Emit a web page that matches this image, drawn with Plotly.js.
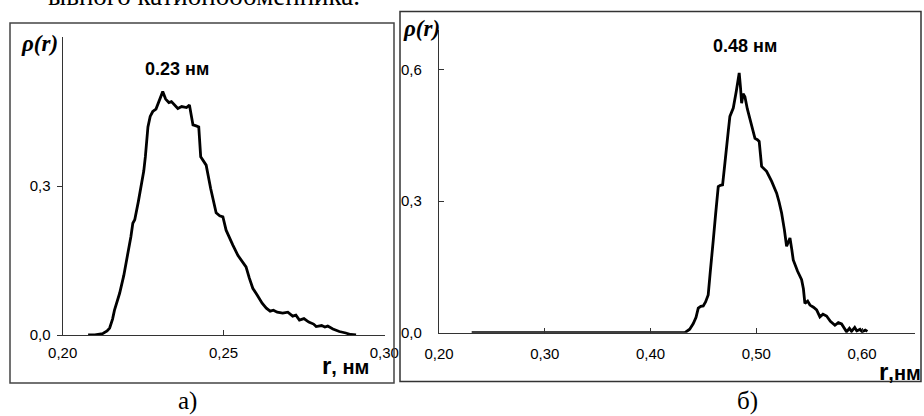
<!DOCTYPE html>
<html>
<head>
<meta charset="utf-8">
<script src="https://cdn.plot.ly/plotly-3.0.1.min.js"></script>
<style>html,body{margin:0;padding:0;background:#fff;}#chart{width:924px;height:416px;}</style>
</head>
<body>
<div id="chart"></div>
<script>
// Panel a) — peak at 0.23 nm
var rA = [0.2079, 0.2100, 0.2125, 0.2138, 0.2146, 0.2155, 0.2161, 0.2170, 0.2177, 0.2190, 0.2203, 0.2212, 0.2218, 0.2224, 0.2235, 0.2244, 0.2252, 0.2257, 0.2262, 0.2265, 0.2272, 0.2280, 0.2290, 0.2300, 0.2311, 0.2320, 0.2330, 0.2338, 0.2348, 0.2358, 0.2370, 0.2385, 0.2394, 0.2400, 0.2405, 0.2415, 0.2423, 0.2429, 0.2437, 0.2446, 0.2460, 0.2477, 0.2488, 0.2498, 0.2508, 0.2518, 0.2529, 0.2545, 0.2560, 0.2570, 0.2580, 0.2591, 0.2605, 0.2620, 0.2633, 0.2645, 0.2655, 0.2667, 0.2684, 0.2700, 0.2715, 0.2725, 0.2736, 0.2750, 0.2765, 0.2780, 0.2788, 0.2805, 0.2815, 0.2824, 0.2840, 0.2860, 0.2880, 0.2895, 0.2912];
var rhoA = [0.000, 0.000, 0.003, 0.008, 0.014, 0.032, 0.050, 0.068, 0.084, 0.120, 0.164, 0.198, 0.225, 0.232, 0.268, 0.299, 0.330, 0.359, 0.395, 0.419, 0.440, 0.450, 0.455, 0.472, 0.490, 0.475, 0.468, 0.470, 0.462, 0.456, 0.460, 0.458, 0.463, 0.445, 0.423, 0.421, 0.419, 0.359, 0.350, 0.342, 0.295, 0.246, 0.240, 0.238, 0.211, 0.195, 0.181, 0.160, 0.145, 0.137, 0.115, 0.094, 0.080, 0.064, 0.054, 0.048, 0.050, 0.046, 0.044, 0.046, 0.038, 0.040, 0.030, 0.033, 0.026, 0.022, 0.017, 0.019, 0.016, 0.018, 0.012, 0.007, 0.004, 0.001, 0.000];

// Panel б) — peak at 0.48 nm
var rB = [0.2309, 0.3000, 0.3500, 0.4000, 0.4325, 0.4370, 0.4404, 0.4430, 0.4451, 0.4475, 0.4498, 0.4520, 0.4545, 0.4565, 0.4578, 0.4593, 0.4615, 0.4640, 0.4660, 0.4681, 0.4700, 0.4713, 0.4735, 0.4750, 0.4782, 0.4810, 0.4838, 0.4850, 0.4861, 0.4875, 0.4892, 0.4915, 0.4940, 0.4965, 0.4987, 0.5010, 0.5027, 0.5050, 0.5075, 0.5097, 0.5145, 0.5192, 0.5215, 0.5239, 0.5265, 0.5286, 0.5300, 0.5318, 0.5335, 0.5349, 0.5390, 0.5428, 0.5445, 0.5459, 0.5485, 0.5507, 0.5540, 0.5570, 0.5601, 0.5630, 0.5664, 0.5700, 0.5743, 0.5775, 0.5806, 0.5830, 0.5853, 0.5880, 0.5900, 0.5930, 0.5950, 0.5980, 0.6000, 0.6030, 0.6050];
var rhoB = [0.000, 0.000, 0.000, 0.000, 0.000, 0.008, 0.021, 0.035, 0.056, 0.060, 0.061, 0.070, 0.086, 0.140, 0.181, 0.211, 0.270, 0.333, 0.336, 0.337, 0.380, 0.417, 0.460, 0.493, 0.512, 0.550, 0.592, 0.560, 0.523, 0.545, 0.538, 0.510, 0.485, 0.460, 0.443, 0.440, 0.436, 0.379, 0.372, 0.368, 0.345, 0.318, 0.298, 0.273, 0.235, 0.197, 0.205, 0.216, 0.190, 0.166, 0.140, 0.121, 0.100, 0.067, 0.072, 0.063, 0.058, 0.052, 0.036, 0.042, 0.038, 0.026, 0.017, 0.023, 0.020, 0.010, 0.002, 0.010, 0.003, 0.012, 0.004, 0.008, 0.002, 0.006, 0.003];

var xTicksA = [0.20, 0.25, 0.30];
var yTicksA = [0.0, 0.3];
var xTicksB = [0.20, 0.30, 0.40, 0.50, 0.60];
var yTicksB = [0.0, 0.3, 0.6];
var peakLabelA = '0.23 нм';
var peakLabelB = '0.48 нм';

var W = 924, H = 416;
function px(x) { return x / W; }
function py(y) { return (H - y) / H; }

var lineStyle = {color: '#000', width: 2.8, shape: 'linear'};
var traces = [
  {x: rA, y: rhoA, type: 'scatter', mode: 'lines', line: lineStyle, xaxis: 'x', yaxis: 'y', hoverinfo: 'x+y'},
  {x: rB, y: rhoB, type: 'scatter', mode: 'lines', line: lineStyle, xaxis: 'x2', yaxis: 'y2', hoverinfo: 'x+y'}
];

var tickFont = {family: 'Liberation Sans, Arial, sans-serif', size: 15, color: '#000'};
function axisBase(extra) {
  var a = {
    showline: true, linecolor: '#333', linewidth: 1.2,
    showgrid: false, zeroline: false,
    tickmode: 'array', tickcolor: '#333', tickwidth: 1, ticklen: 5,
    tickfont: tickFont, fixedrange: true
  };
  for (var k in extra) a[k] = extra[k];
  return a;
}

var layout = {
  width: W, height: H,
  margin: {l: 0, r: 0, t: 0, b: 0},
  paper_bgcolor: '#fff', plot_bgcolor: 'rgba(0,0,0,0)',
  showlegend: false,
  separators: ', ',
  xaxis: axisBase({domain: [px(62.7), px(385)], range: [0.2, 0.3002], tickvals: xTicksA, ticktext: xTicksA.map(function(v){return v.toFixed(2).replace('.', ',');}), ticks: 'inside', anchor: 'y', ticklabelstandoff: 4}),
  yaxis: axisBase({domain: [py(335), py(37)], range: [0, 0.6], tickvals: yTicksA, ticktext: yTicksA.map(function(v){return v.toFixed(1).replace('.', ',');}), ticks: 'outside', anchor: 'x', ticklabelstandoff: 3}),
  xaxis2: axisBase({domain: [px(439), px(915)], range: [0.2, 0.65], tickvals: xTicksB, ticktext: xTicksB.map(function(v){return v.toFixed(2).replace('.', ',');}), ticks: 'inside', anchor: 'y2', ticklabelstandoff: 7}),
  yaxis2: axisBase({domain: [py(332.7), py(30)], range: [0, 0.69], tickvals: yTicksB, ticktext: yTicksB.map(function(v){return v.toFixed(1).replace('.', ',');}), ticks: 'inside', anchor: 'x2', ticklabelstandoff: 13}),
  shapes: [
    {type: 'rect', xref: 'paper', yref: 'paper', x0: px(10), x1: px(394), y0: py(383), y1: py(23), line: {color: '#444', width: 1.5}},
    {type: 'rect', xref: 'paper', yref: 'paper', x0: px(400), x1: px(921), y0: py(381.5), y1: py(11.5), line: {color: '#333', width: 1.5}}
  ],
  annotations: [
    {text: 'ывного катионообменника.', xref: 'paper', yref: 'paper', x: px(362), y: py(-4), xanchor: 'right', yanchor: 'middle', showarrow: false, font: {family: 'Liberation Serif, Times New Roman, serif', size: 27, color: '#000'}},
    {text: '<b><i>ρ(r)</i></b>', xref: 'paper', yref: 'paper', x: px(39), y: py(44), xanchor: 'center', yanchor: 'middle', showarrow: false, font: {family: 'Liberation Serif, Times New Roman, serif', size: 23, color: '#000'}},
    {text: '<b><i>ρ(r)</i></b>', xref: 'paper', yref: 'paper', x: px(421), y: py(29), xanchor: 'center', yanchor: 'middle', showarrow: false, font: {family: 'Liberation Serif, Times New Roman, serif', size: 23, color: '#000'}},
    {text: '<b>' + peakLabelA + '</b>', xref: 'paper', yref: 'paper', x: px(176.5), y: py(68.5), xanchor: 'center', yanchor: 'middle', showarrow: false, font: {family: 'Liberation Sans, Arial, sans-serif', size: 18, color: '#000'}},
    {text: '<b>' + peakLabelB + '</b>', xref: 'paper', yref: 'paper', x: px(745), y: py(46), xanchor: 'center', yanchor: 'middle', showarrow: false, font: {family: 'Liberation Sans, Arial, sans-serif', size: 18, color: '#000'}},
    {text: '<b><span style="font-size:24px">r</span>, нм</b>', xref: 'paper', yref: 'paper', x: px(345), y: py(365), xanchor: 'center', yanchor: 'middle', showarrow: false, font: {family: 'Liberation Sans, Arial, sans-serif', size: 20, color: '#000'}},
    {text: '<b><span style="font-size:24px">r</span>,нм</b>', xref: 'paper', yref: 'paper', x: px(923), y: py(371), xanchor: 'right', yanchor: 'middle', showarrow: false, font: {family: 'Liberation Sans, Arial, sans-serif', size: 20, color: '#000'}},
    {text: 'а)', xref: 'paper', yref: 'paper', x: px(187), y: py(401), xanchor: 'center', yanchor: 'middle', showarrow: false, font: {family: 'Liberation Serif, Times New Roman, serif', size: 25, color: '#000'}},
    {text: 'б)', xref: 'paper', yref: 'paper', x: px(747), y: py(401), xanchor: 'center', yanchor: 'middle', showarrow: false, font: {family: 'Liberation Serif, Times New Roman, serif', size: 25, color: '#000'}}
  ]
};

Plotly.newPlot('chart', traces, layout, {staticPlot: true, displayModeBar: false});
</script>
</body>
</html>
